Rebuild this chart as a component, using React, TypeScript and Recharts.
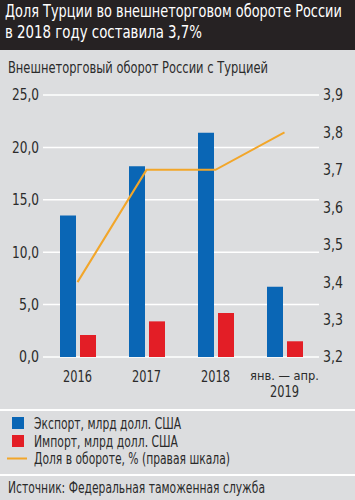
import React from "react";
import {
  ComposedChart,
  Bar,
  Line,
  XAxis,
  YAxis,
  CartesianGrid,
} from "recharts";

const categories = ["2016", "2017", "2018", "янв. — апр.\n2019"];
const exportValues = [13.5, 18.2, 21.4, 6.7];
const importValues = [2.1, 3.4, 4.2, 1.5];
const shareValues = [3.4, 3.7, 3.7, 3.8];
const leftTicks = [0, 5, 10, 15, 20, 25];
const rightTicks = [3.2, 3.3, 3.4, 3.5, 3.6, 3.7, 3.8, 3.9];

const data = categories.map((name, i) => ({
  name,
  exp: exportValues[i],
  imp: importValues[i],
  share: shareValues[i],
}));

const FONT = '"DejaVu Sans Condensed", "Liberation Sans", sans-serif';
const TEXT = "#2b2b2b";
const BLUE = "#0a66b5";
const RED = "#e31e26";
const ORANGE = "#f2a62a";
const BG = "#dcdddf";

const fmt = (v: number) => v.toFixed(1).replace(".", ",");

// rough width of a label in the narrow face of the original
const numW = (s: string) => s.length * 7 - 1;

const YTick = (props: any) => {
  const { x, y, payload, textAnchor, tickFormatter } = props;
  const s = tickFormatter ? tickFormatter(payload.value) : String(payload.value);
  return (
    <text
      x={x}
      y={y}
      dy="0.36em"
      textAnchor={textAnchor}
      fill={TEXT}
      fontSize={15}
      fontFamily={FONT}
      textLength={numW(s)}
      lengthAdjust="spacingAndGlyphs"
    >
      {s}
    </text>
  );
};

const XTick = (props: any) => {
  const { x, y, payload } = props;
  const lines = String(payload.value).split("\n");
  if (lines.length === 1) {
    return (
      <text
        x={x}
        y={y + 25}
        textAnchor="middle"
        fill={TEXT}
        fontSize={15}
        fontFamily={FONT}
        textLength={29}
        lengthAdjust="spacingAndGlyphs"
      >
        {lines[0]}
      </text>
    );
  }
  return (
    <g>
      <text
        x={x}
        y={y + 23}
        textAnchor="middle"
        fill={TEXT}
        fontSize={13}
        fontFamily={FONT}
        textLength={69}
        lengthAdjust="spacingAndGlyphs"
      >
        {lines[0]}
      </text>
      <text
        x={x}
        y={y + 40}
        textAnchor="middle"
        fill={TEXT}
        fontSize={15}
        fontFamily={FONT}
        textLength={29}
        lengthAdjust="spacingAndGlyphs"
      >
        {lines[1]}
      </text>
    </g>
  );
};

const legendItems = [
  { label: "Экспорт, млрд долл. США", color: BLUE, kind: "box", w: 147 },
  { label: "Импорт, млрд долл. США", color: RED, kind: "box", w: 144 },
  { label: "Доля в обороте, % (правая шкала)", color: ORANGE, kind: "line", w: 196 },
];

export default function App() {
  return (
    <div
      style={{
        position: "fixed",
        top: 0,
        left: 0,
        width: 355,
        height: 500,
        background: BG,
        overflow: "hidden",
      }}
    >
      <ComposedChart
        width={355}
        height={500}
        data={data}
        margin={{ top: 95, right: 0, bottom: 103, left: 0 }}
        barGap={4}
        barSize={16}
        style={{ position: "absolute", top: 0, left: 0 }}
      >
        <CartesianGrid yAxisId="left" vertical={false} stroke="#ffffff" strokeWidth={1.5} />
        <XAxis
          dataKey="name"
          axisLine={false}
          tickLine={false}
          tickSize={0}
          tickMargin={0}
          height={40}
          interval={0}
          tick={<XTick />}
        />
        <YAxis
          yAxisId="left"
          domain={[0, 25]}
          ticks={leftTicks}
          tickFormatter={fmt}
          axisLine={false}
          tickLine={false}
          tickSize={0}
          tickMargin={4}
          width={43}
          tick={<YTick />}
        />
        <YAxis
          yAxisId="right"
          orientation="right"
          domain={[3.2, 3.9]}
          ticks={rightTicks}
          tickFormatter={fmt}
          axisLine={false}
          tickLine={false}
          tickSize={0}
          tickMargin={4}
          width={36}
          tick={<YTick />}
        />
        <Bar yAxisId="left" dataKey="exp" fill={BLUE} isAnimationActive={false} />
        <Bar yAxisId="left" dataKey="imp" fill={RED} isAnimationActive={false} />
        <Line
          yAxisId="right"
          dataKey="share"
          type="linear"
          stroke={ORANGE}
          strokeWidth={2}
          dot={false}
          activeDot={false}
          isAnimationActive={false}
        />
      </ComposedChart>
      <svg
        width={355}
        height={500}
        style={{ position: "absolute", top: 0, left: 0, pointerEvents: "none" }}
        fontFamily={FONT}
      >
        <rect x={0} y={0} width={355} height={50} fill="#262223" />
        <g transform="translate(5,17) scale(0.8,1)">
          <text x={0} y={0} fill="#fff" fontSize={18} textLength={421} lengthAdjust="spacingAndGlyphs">
            Доля Турции во внешнеторговом обороте России
          </text>
        </g>
        <text x={5} y={38} fill="#fff" fontSize={18} textLength={197} lengthAdjust="spacingAndGlyphs">
          в 2018 году составила 3,7%
        </text>
        <text x={8} y={73} fill={TEXT} fontSize={15} textLength={260} lengthAdjust="spacingAndGlyphs">
          Внешнеторговый оборот России с Турцией
        </text>
        <rect x={0} y={409} width={355} height={2} fill="#fff" />
        {legendItems.map((it, i) => (
          <g key={it.label}>
            {it.kind === "box" ? (
              <rect x={12} y={417 + i * 18} width={12} height={12} fill={it.color} />
            ) : (
              <rect x={7} y={457.5} width={20} height={2} fill={it.color} />
            )}
            <text
              x={34}
              y={429 + i * 17.5}
              fill={TEXT}
              fontSize={15}
              textLength={it.w}
              lengthAdjust="spacingAndGlyphs"
            >
              {it.label}
            </text>
          </g>
        ))}
        <rect x={0} y={474} width={355} height={2} fill="#fff" />
        <text x={8} y={493} fill={TEXT} fontSize={15} textLength={257} lengthAdjust="spacingAndGlyphs">
          Источник: Федеральная таможенная служба
        </text>
      </svg>
    </div>
  );
}
